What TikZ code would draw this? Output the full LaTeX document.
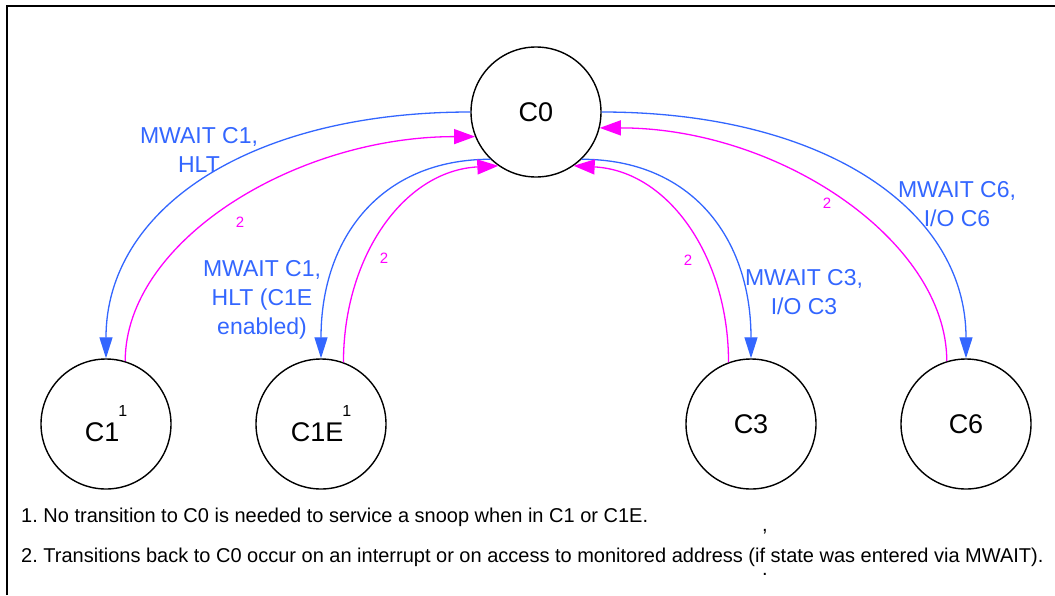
\documentclass[tikz,border=0pt]{standalone}
\usepackage{fontspec}
\setmainfont{Liberation Sans}
\usepackage{xcolor}
\usepackage{tikz}
\usetikzlibrary{positioning}
\usetikzlibrary{calc,arrows.meta}

\definecolor{mwblue}{RGB}{51,102,255}
\definecolor{irqmag}{RGB}{255,0,255}
\frenchspacing

\begin{document}
\begin{tikzpicture}[x=1pt,y=-1pt,
  cstate/.style={draw,circle,line width=1.4pt,minimum size=130pt,inner sep=0pt,font=\fontsize{27}{27}\selectfont},
  enter/.style={draw=mwblue,line width=1.3pt,-{Triangle[length=21pt,width=13pt]}},
  wake/.style={draw=irqmag,line width=1.3pt,-{Triangle[length=21pt,width=15pt]}},
  cmd/.style={text=mwblue,align=center,inner sep=0pt,font=\fontsize{23}{29}\selectfont},
  fnmark/.style={text=irqmag,inner sep=0pt,font=\fontsize{15}{15}\selectfont},
  note/.style={anchor=base west,inner sep=0pt,font=\fontsize{20}{20}\selectfont}]

% Define parameters
\pgfmathsetmacro{\supraise}{25}

% Fix the page
\useasboundingbox (0,0) rectangle (1055,595);
\draw[line width=2pt] (7,595) -- (7,5.7) -- (1055,5.7);

% Draw states
\node[cstate] (C0) at (536,112) {C0};
\node[cstate] (C1) at (106,424) {C1\kern-1pt\raisebox{\supraise pt}{\fontsize{16}{16}\selectfont 1}};
\node[cstate] (C1E) at (321,424) {C1E\kern-1pt\raisebox{\supraise pt}{\fontsize{16}{16}\selectfont 1}};
\node[cstate] (C3) at (751,424) {C3};
\node[cstate] (C6) at (966,424) {C6};

% Draw transitions into sleep states
\draw[enter] (C0.180) .. controls +(-220,0) and +(0,-150) .. (C1.north);
\draw[enter] (C0.226) .. controls +(-110,0) and +(0,-120) .. (C1E.north);
\draw[enter] (C0.314) .. controls +(110,0) and +(0,-120) .. (C3.north);
\draw[enter] (C0.0) .. controls +(220,0) and +(0,-150) .. (C6.north);

% Draw transitions back to C0
\draw[wake] (C1.73) .. controls +(0,-120) and +(-180,0) .. (C0.202);
\draw[wake] (C1E.70) .. controls +(0,-105) and +(-95,5) .. (C0.235);
\draw[wake] (C3.110) .. controls +(0,-105) and +(95,5) .. (C0.305);
\draw[wake] (C6.107) .. controls +(0,-120) and +(180,0) .. (C0.346);

% Draw labels
\node[cmd] (lC1) at (199,150) {MWAIT C1,\\HLT};
\node[cmd] (lC1E) at (262,300) {MWAIT C1,\\HLT (C1E\\enabled)};
\node[cmd] (lC3) at (804,292) {MWAIT C3,\\I/O C3};
\node[cmd] (lC6) at (957,204) {MWAIT C6,\\I/O C6};

\node[fnmark] (wC1) at (240,222) {2};
\node[fnmark] (wC1E) at (384,258) {2};
\node[fnmark] (wC3) at (688,260) {2};
\node[fnmark] (wC6) at (827,203) {2};

% Footnotes
\node[note] (noteone) at (21,522) {1. No transition to C0 is needed to service a snoop when in C1 or C1E.};
\node[note] (notetwo) at (21,562) {2. Transitions back to C0 occur on an interrupt or on access to monitored address (if state was entered via MWAIT).};
\node[note] (comma) at (762,531) {,};
\node[note] (dot) at (762,575) {.};

\end{tikzpicture}
\end{document}
